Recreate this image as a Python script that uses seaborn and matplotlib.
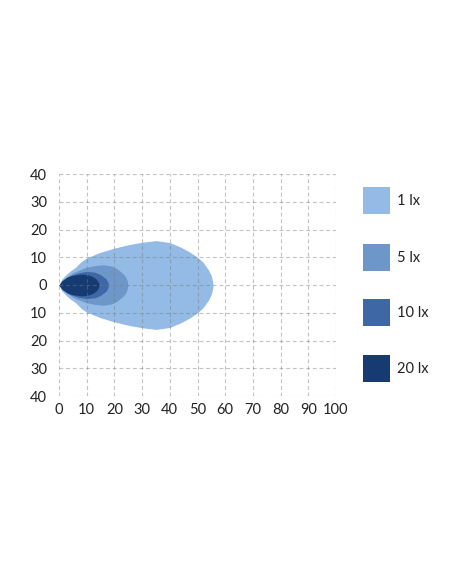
import matplotlib
matplotlib.use("Agg")
import matplotlib.pyplot as plt
from matplotlib.patches import Rectangle
import seaborn as sns

# ----------------------------------------------------
# Dados (metade superior de cada isolinha; forma simétrica)
# ----------------------------------------------------
labels = ['1 lx', '5 lx', '10 lx', '20 lx']
colors = ['#93bbe5', '#6d96c9', '#3e67a5', '#163a72']

x_1lx = [0, 1, 2.2, 4, 6, 8, 10, 15, 20, 25, 30, 35, 40, 44, 47, 50, 52, 54, 55, 55.4, 55.6]
w_1lx = [0, 2.1, 3.4, 5.0, 6.4, 8.4, 9.8, 11.8, 13.3, 14.5, 15.4, 16, 15.3, 13.6, 12, 10, 8.2, 5.4, 3.3, 1.6, 0]

x_5lx = [0, 1, 2, 5, 8, 10, 13, 16, 19, 21, 23, 24, 24.6, 24.9]
w_5lx = [0, 1.3, 2.3, 4.4, 5.7, 6.4, 7.0, 7.3, 6.8, 5.8, 4.2, 3.0, 1.6, 0]

x_10lx = [0, 1, 2, 4, 7, 10, 13, 15, 17, 17.6, 17.9]
w_10lx = [0, 1.2, 2.1, 3.4, 4.4, 4.9, 4.6, 3.7, 2.2, 1.1, 0]

x_20lx = [0, 1, 3, 5, 8, 10, 12, 13.5, 14.2, 14.5]
w_20lx = [0, 1.5, 2.9, 3.5, 3.9, 3.8, 3.1, 2.1, 1.0, 0]

xs = [x_1lx, x_5lx, x_10lx, x_20lx]
ws = [w_1lx, w_5lx, w_10lx, w_20lx]

x_ticks = list(range(0, 101, 10))
y_ticks = list(range(-40, 41, 10))
y_ticklabels = [str(abs(v)) for v in y_ticks]

# ----------------------------------------------------
# Gráfico
# ----------------------------------------------------
sns.set_style('white')
plt.rcParams['font.family'] = ['Lato', 'DejaVu Sans']

W, H = 452, 584
fig = plt.figure(figsize=(W / 100, H / 100), dpi=100)
ax = fig.add_axes([59 / W, (H - 396) / H, 277 / W, 222 / H])

for x, w, c in zip(xs, ws, colors):
    ax.fill_between(x, [-v for v in w], w, color=c, linewidth=0, zorder=2)

ax.set_xlim(0, 100)
ax.set_ylim(-40, 40)
ax.set_xticks(x_ticks)
ax.set_yticks(y_ticks)
ax.set_yticklabels(y_ticklabels)
ax.grid(True, color='#7a7a7a', alpha=0.45, linestyle=(0, (3.5, 2.5)),
        linewidth=0.8, zorder=3)
ax.set_axisbelow(False)
ax.tick_params(axis='y', length=0, labelsize=10.5, colors='#222222', pad=8.5)
ax.tick_params(axis='x', length=0, labelsize=10.5, colors='#222222', pad=5)
sns.despine(ax=ax, left=True, bottom=True)

# legenda manual (quadrados + texto)
sq_tops = [187, 244, 299, 355]
for top, c, lab in zip(sq_tops, colors, labels):
    fig.patches.append(Rectangle((363 / W, (H - top - 27) / H), 27 / W, 27 / H,
                                 transform=fig.transFigure, facecolor=c,
                                 edgecolor='none'))
    fig.text(397 / W, (H - top - 14) / H, lab, fontsize=10.5, color='#222222',
             va='center', ha='left')

fig.savefig('out.png', dpi=100)
